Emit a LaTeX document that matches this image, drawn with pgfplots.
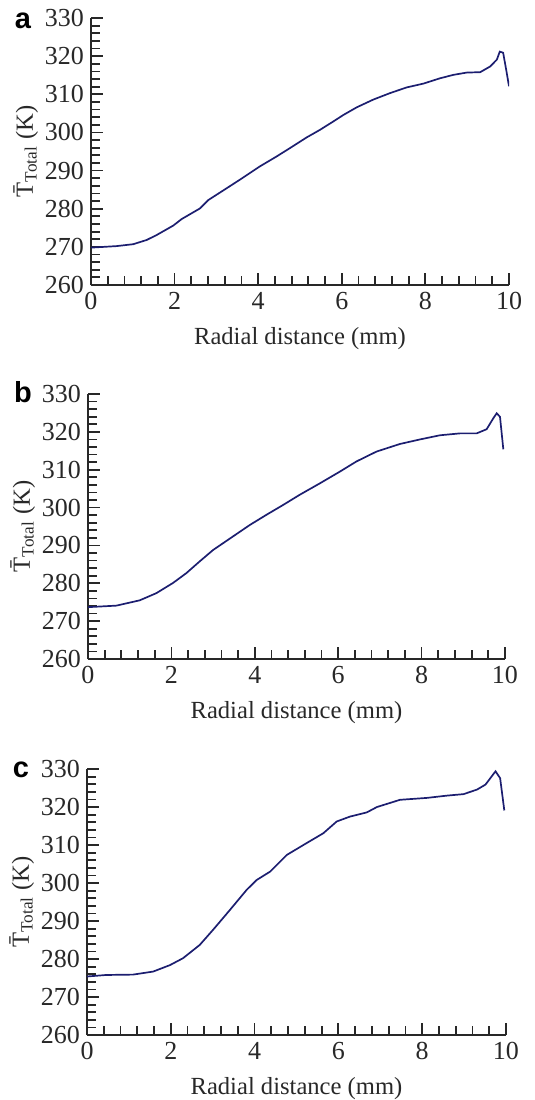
\documentclass[border=0pt]{standalone}
\usepackage{fontspec}
\setmainfont{Liberation Serif}
\newfontfamily\panelfont{Liberation Sans}
\usepackage{pgfplots}
\pgfplotsset{compat=1.18}
\definecolor{curve}{RGB}{28,30,112}
\definecolor{axisgray}{RGB}{40,40,40}

\pgfplotsset{panel/.style={
  scale only axis,
  axis x line*=bottom, axis y line*=left,
  axis line style={-, line width=0.6pt, axisgray},
  xmin=0, xmax=10, ymin=260, ymax=330,
  xtick={0,2,...,10}, ytick={260,270,...,330},
  minor x tick num=4, minor y tick num=4,
  tick align=inside,
  major tick length=6pt, minor tick length=4.5pt,
  tick style={axisgray, line width=0.9pt},
  ticklabel style={font=\fontsize{13}{14}\selectfont, text=axisgray},
  /pgf/number format/assume math mode=true,
  /pgf/number format/1000 sep={},
  label style={font=\fontsize{12.3}{14}\selectfont, text=axisgray},
  xlabel={Radial distance (mm)},
  ylabel={\={T}\textsubscript{Total} (K)},
  ylabel style={yshift=-3.5pt},
  xlabel style={yshift=-2pt},
}}

\begin{document}
\begin{tikzpicture}
\useasboundingbox (0,0) rectangle (267.5pt,-550pt);

% panel a
\begin{axis}[panel, at={(45.5pt,-142.5pt)}, anchor=south west, width=209pt, height=133.5pt]
\addplot[curve, line width=0.85pt, no markers] coordinates {
(0,269.8) (0.61,270.2) (1.01,270.7) (1.33,271.8) (1.57,273.1) (1.97,275.6)
(2.17,277.3) (2.61,280.1) (2.81,282.3) (3.25,285.4) (3.56,287.6) (4.04,291.1)
(4.44,293.7) (4.76,295.9) (5.16,298.7) (5.48,300.7) (5.80,302.9) (6.04,304.6)
(6.36,306.6) (6.75,308.6) (7.15,310.3) (7.55,311.8) (7.95,312.8) (8.35,314.2)
(8.67,315.1) (8.99,315.7) (9.31,315.8) (9.55,317.3) (9.71,319.1) (9.78,321.2)
(9.86,320.9) (9.94,316.0) (10.0,312.1)
};
\end{axis}

% panel b
\begin{axis}[panel, at={(44pt,-329.5pt)}, anchor=south west, width=208.5pt, height=132.5pt]
\addplot[curve, line width=0.85pt, no markers] coordinates {
(0,273.7) (0.68,274.1) (1.24,275.5) (1.64,277.4) (2.04,280.1) (2.36,282.7)
(2.68,285.8) (3.0,288.8) (3.48,292.4) (3.88,295.4) (4.28,298.1) (4.68,300.7)
(5.08,303.4) (5.56,306.4) (6.04,309.5) (6.44,312.2) (6.92,314.8) (7.48,316.8)
(7.96,318.0) (8.44,319.1) (8.92,319.6) (9.32,319.6) (9.56,320.7) (9.72,323.6)
(9.8,324.9) (9.88,324.0) (9.96,315.4)
};
\end{axis}

% panel c
\begin{axis}[panel, at={(43.5pt,-517.5pt)}, anchor=south west, width=209.5pt, height=133pt]
\addplot[curve, line width=0.85pt, no markers] coordinates {
(0,275.4) (0.46,275.8) (1.10,275.9) (1.58,276.7) (1.98,278.4) (2.29,280.2)
(2.69,283.7) (3.01,287.7) (3.41,292.9) (3.81,298.2) (4.05,300.8) (4.37,303.0)
(4.77,307.4) (5.24,310.5) (5.64,313.1) (5.96,316.2) (6.28,317.5) (6.68,318.6)
(6.92,320.0) (7.47,321.9) (8.11,322.4) (8.59,323.0) (8.99,323.4) (9.31,324.6)
(9.51,325.9) (9.75,329.4) (9.86,327.6) (9.96,319.1)
};
\end{axis}

\node[font=\panelfont\bfseries\fontsize{14.5}{16}\selectfont] at (11.5pt,-10.5pt) {a};
\node[font=\panelfont\bfseries\fontsize{14.5}{16}\selectfont] at (11.5pt,-196pt) {b};
\node[font=\panelfont\bfseries\fontsize{14.5}{16}\selectfont] at (10.5pt,-385pt) {c};
\end{tikzpicture}
\end{document}
